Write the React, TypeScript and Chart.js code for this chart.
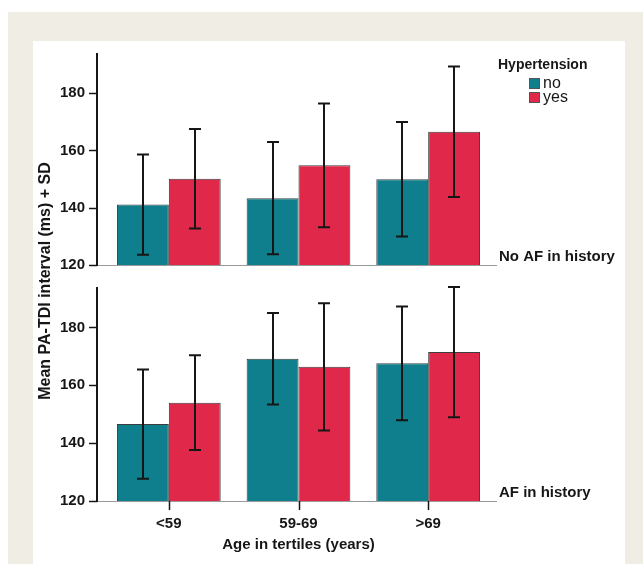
import React, { useEffect, useRef } from 'react';
import { Chart, registerables } from 'chart.js';

Chart.register(...registerables);

// ---- data ----
const categories = ['<59', '59-69', '>69'];
const seriesLabels = ['no', 'yes'];
const panelLabels = ['No AF in history', 'AF in history'];
const yTickValues = [120, 140, 160, 180];

// Panel 1: No AF in history
const noAfNoMean = [141.1, 143.3, 149.9];
const noAfNoSD = [17.5, 19.6, 20.0];
const noAfYesMean = [150.1, 154.8, 166.5];
const noAfYesSD = [17.4, 21.6, 22.8];

// Panel 2: AF in history
const afNoMean = [146.6, 169.2, 167.6];
const afNoSD = [18.9, 15.8, 19.7];
const afYesMean = [154.0, 166.4, 171.5];
const afYesSD = [16.4, 22.0, 22.5];

const legendTitle = 'Hypertension';
const yTitle = 'Mean PA-TDI interval (ms) + SD';
const xTitle = 'Age in tertiles (years)';

// ---- styles ----
const TEAL = '#0f7f8d';
const RED = '#e0294a';
const INK = '#161616';
const FONT = "'Liberation Sans', Arial, Helvetica, sans-serif";

const decorPlugin = {
  id: 'decor',
  beforeDraw(chart: any) {
    const ctx = chart.ctx;
    ctx.save();
    ctx.fillStyle = '#efede4';
    ctx.fillRect(8, 12, chart.width - 8, chart.height - 12);
    ctx.fillStyle = '#ffffff';
    ctx.fillRect(33, 41, 625 - 33, chart.height - 41);
    ctx.restore();
  },
  afterDatasetsDraw(chart: any) {
    const ctx = chart.ctx;
    const { left, right, top } = chart.chartArea;
    const axX = left - 7;
    ctx.save();

    // baselines, axis lines, y ticks, panel labels
    ['yTop', 'yBot'].forEach((id, k) => {
      const sc = chart.scales[id];
      const base = Math.round(sc.getPixelForValue(120));
      ctx.strokeStyle = '#9a9a9a';
      ctx.lineWidth = 1;
      ctx.beginPath();
      ctx.moveTo(axX, base + 0.5);
      ctx.lineTo(right + 4, base + 0.5);
      ctx.stroke();

      ctx.strokeStyle = INK;
      ctx.lineWidth = 2;
      ctx.beginPath();
      ctx.moveTo(axX, k === 0 ? top : sc.top);
      ctx.lineTo(axX, base + 1);
      ctx.stroke();

      ctx.lineWidth = 1.5;
      yTickValues.forEach((v) => {
        const y = Math.round(sc.getPixelForValue(v)) + 0.5;
        ctx.beginPath();
        ctx.moveTo(axX - 8, y);
        ctx.lineTo(axX, y);
        ctx.stroke();
      });

      ctx.fillStyle = INK;
      ctx.font = `bold 15px ${FONT}`;
      ctx.textAlign = 'left';
      ctx.textBaseline = 'middle';
      ctx.fillText(panelLabels[k], right + 6, base - 8);
    });

    // x ticks (bottom panel)
    const xs = chart.scales.x;
    const bot = Math.round(chart.scales.yBot.getPixelForValue(120));
    ctx.strokeStyle = INK;
    ctx.lineWidth = 1.5;
    categories.forEach((_, i) => {
      const x = Math.round(xs.getPixelForValue(i)) + 0.5;
      ctx.beginPath();
      ctx.moveTo(x, bot);
      ctx.lineTo(x, bot + 9);
      ctx.stroke();
    });

    // error bars
    ctx.strokeStyle = INK;
    ctx.lineWidth = 2;
    chart.data.datasets.forEach((ds: any, di: number) => {
      const meta = chart.getDatasetMeta(di);
      const ys = chart.scales[ds.yAxisID];
      meta.data.forEach((bar: any, i: number) => {
        const m = ds.data[i];
        const s = ds.sd[i];
        const x = Math.round(bar.x);
        const yHi = ys.getPixelForValue(m + s);
        const yLo = ys.getPixelForValue(m - s);
        ctx.beginPath();
        ctx.moveTo(x, yHi);
        ctx.lineTo(x, yLo);
        ctx.moveTo(x - 6, yHi);
        ctx.lineTo(x + 6, yHi);
        ctx.moveTo(x - 6, yLo);
        ctx.lineTo(x + 6, yLo);
        ctx.stroke();
      });
    });

    // y title (shared by both panels)
    ctx.save();
    ctx.translate(46, 281);
    ctx.rotate(-Math.PI / 2);
    ctx.fillStyle = INK;
    ctx.font = `bold 16px ${FONT}`;
    ctx.textAlign = 'center';
    ctx.textBaseline = 'middle';
    ctx.fillText(yTitle, 0, 0);
    ctx.restore();

    // legend
    ctx.fillStyle = INK;
    ctx.font = `bold 14px ${FONT}`;
    ctx.textAlign = 'left';
    ctx.textBaseline = 'middle';
    ctx.fillText(legendTitle, 498, 65);
    const colors = [TEAL, RED];
    seriesLabels.forEach((lab, i) => {
      const y = 78 + i * 14;
      ctx.fillStyle = colors[i];
      ctx.fillRect(529, y, 11, 11);
      ctx.strokeStyle = '#555';
      ctx.lineWidth = 1;
      ctx.strokeRect(529.5, y + 0.5, 10, 10);
      ctx.fillStyle = INK;
      ctx.font = `16px ${FONT}`;
      ctx.fillText(lab, 543, y + 5.5);
    });

    ctx.restore();
  },
};

export default function App() {
  const ref = useRef<HTMLCanvasElement | null>(null);

  useEffect(() => {
    document.body.style.margin = '0';
    const canvas = ref.current;
    if (!canvas) return;

    const tickFont = { family: FONT, size: 15, weight: 'bold' as const };

    const mkDs = (label: string, data: number[], sd: number[], axis: string, color: string) => ({
      label,
      data,
      sd,
      yAxisID: axis,
      stack: label,
      base: 120,
      backgroundColor: color,
      borderColor: 'rgba(40,40,40,0.9)',
      borderWidth: 1,
    });

    const chart = new Chart(canvas, {
      type: 'bar',
      data: {
        labels: categories,
        datasets: [
          mkDs(seriesLabels[0], noAfNoMean, noAfNoSD, 'yTop', TEAL),
          mkDs(seriesLabels[1], noAfYesMean, noAfYesSD, 'yTop', RED),
          mkDs(seriesLabels[0], afNoMean, afNoSD, 'yBot', TEAL),
          mkDs(seriesLabels[1], afYesMean, afYesSD, 'yBot', RED),
        ] as any,
      },
      options: {
        responsive: false,
        animation: false,
        layout: { padding: { top: 53, right: 150, bottom: 0, left: 0 } },
        plugins: { legend: { display: false }, tooltip: { enabled: false } },
        datasets: { bar: { categoryPercentage: 0.8, barPercentage: 1.0 } },
        scales: {
          x: {
            type: 'category',
            offset: true,
            grid: { display: false, drawTicks: false },
            border: { display: false },
            ticks: { font: tickFont, color: INK, padding: 14, maxRotation: 0 },
            title: {
              display: true,
              text: xTitle,
              font: { family: FONT, size: 15, weight: 'bold' },
              color: INK,
              padding: { top: 0, bottom: 10 },
            },
            afterFit(s: any) {
              s.height = 63;
            },
          },
          yTop: {
            type: 'linear',
            position: 'left',
            stack: 'panels',
            stackWeight: 234,
            weight: 2,
            stacked: false,
            min: 112.3,
            max: 194,
            afterBuildTicks(s: any) {
              s.ticks = yTickValues.map((v) => ({ value: v }));
            },
            grid: { display: false, drawTicks: false },
            border: { display: false },
            ticks: { font: tickFont, color: INK, padding: 19 },
            afterFit(s: any) {
              s.width = 104;
            },
          },
          yBot: {
            type: 'linear',
            position: 'left',
            stack: 'panels',
            stackWeight: 214,
            weight: 1,
            stacked: false,
            min: 120,
            max: 194,
            afterBuildTicks(s: any) {
              s.ticks = yTickValues.map((v) => ({ value: v }));
            },
            grid: { display: false, drawTicks: false },
            border: { display: false },
            ticks: { font: tickFont, color: INK, padding: 19 },
            afterFit(s: any) {
              s.width = 104;
            },
          },
        } as any,
      },
      plugins: [decorPlugin],
    });

    return () => chart.destroy();
  }, []);

  return <canvas ref={ref} width={643} height={564} style={{ display: 'block' }} />;
}
